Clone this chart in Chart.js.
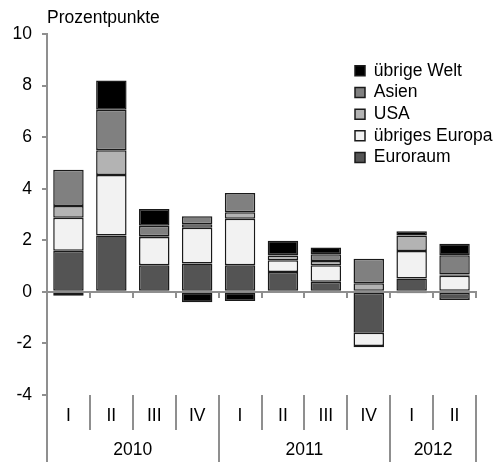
<!DOCTYPE html>
<html><head><meta charset="utf-8">
<script src="https://cdn.jsdelivr.net/npm/chart.js@4.4.1/dist/chart.umd.min.js"></script>
<style>html,body{margin:0;padding:0;background:#fff}</style>
</head><body>
<canvas id="c" width="498" height="462"></canvas>
<script>
// ---- data ----
const quarters = ['I','II','III','IV','I','II','III','IV','I','II'];
const years = ['2010','2011','2012'];
const quartersPerYear = [4, 4, 2];
const euroraum      = [1.59, 2.19, 1.03, 1.10, 1.03, 0.77, 0.39, -1.59, 0.52, -0.32];
const uebrigesEuropa= [1.28, 2.34, 1.10, 1.39, 1.81, 0.46, 0.64, -0.51, 1.06, 0.62];
const usa           = [0.46, 0.96, 0.03, 0.13, 0.25, 0.18, 0.17, 0.33, 0.61, 0.05];
const asien         = [1.41, 1.57, 0.40, 0.31, 0.74, 0.02, 0.26, 0.95, -0.05, 0.75];
const uebrigeWelt   = [-0.15, 1.14, 0.65, -0.40, -0.35, 0.55, 0.26, -0.05, 0.16, 0.45];
const yMin = -4, yMax = 10, yStep = 2;
const unitLabel = 'Prozentpunkte';

// ---- styles ----
const fs = 17.5;
Chart.defaults.font.family = "'Liberation Sans', Arial, sans-serif";
Chart.defaults.font.size = fs;
Chart.defaults.color = '#000';
const axisGray = '#8f8f8f';
const edge = '#1a1a1a';

// year boundaries / centres derived from quartersPerYear
const yearBounds = [-0.5];
const yearCentres = [];
quartersPerYear.forEach((n) => {
  const start = yearBounds[yearBounds.length - 1];
  yearCentres.push(start + n / 2);
  yearBounds.push(start + n);
});

const legendPlacer = {
  id: 'legendPlacer',
  afterLayout(chart) {
    const lg = chart.legend;
    if (!lg) return;
    const pad = lg.options.labels.padding;
    lg.left = 355 - pad;
    lg.right = chart.width;
    lg.top = 62 - pad;
    lg.bottom = lg.top + 200;
  }
};

function ds(label, data, color) {
  return { label, data, backgroundColor: color, borderColor: edge, borderWidth: 1.5,
           borderSkipped: false, categoryPercentage: 1, barPercentage: 0.71 };
}

new Chart(document.getElementById('c'), {
  type: 'bar',
  data: {
    labels: quarters,
    datasets: [
      ds('Euroraum', euroraum, '#545454'),
      ds('übriges Europa', uebrigesEuropa, '#f2f2f2'),
      ds('USA', usa, '#b3b3b3'),
      ds('Asien', asien, '#808080'),
      ds('übrige Welt', uebrigeWelt, '#000000')
    ]
  },
  plugins: [legendPlacer],
  options: {
    responsive: false,
    animation: false,
    layout: { padding: { left: 0, right: 22, top: 0, bottom: 0 } },
    plugins: {
      tooltip: { enabled: false },
      title: {
        display: true, text: unitLabel, align: 'start', position: 'top', fullSize: false,
        font: { size: fs, weight: 'normal' }, color: '#000', padding: { top: 7.5, bottom: 5.5 }
      },
      legend: {
        position: 'chartArea', align: 'start', reverse: true,
        labels: { boxWidth: 10, boxHeight: 10, padding: 4.2, font: { size: fs }, color: '#000' }
      }
    },
    scales: {
      x: {
        stacked: true,
        position: { y: 0 },
        ticks: { display: false },
        grid: { drawOnChartArea: false, tickLength: 5, color: axisGray, lineWidth: 2 },
        border: { display: true, color: axisGray, width: 2 }
      },
      q: {
        type: 'category', axis: 'x', position: 'bottom', weight: 0,
        offset: true,
        grid: { offset: true, drawOnChartArea: false, tickLength: 35, color: axisGray, lineWidth: 2 },
        border: { display: false },
        ticks: { autoSkip: false, maxRotation: 0, padding: -24, font: { size: fs }, color: '#000' },
        afterFit(s) { s.height = 35; }
      },
      years: {
        type: 'linear', axis: 'x', position: 'bottom', weight: 1,
        min: yearBounds[0], max: yearBounds[yearBounds.length - 1],
        offset: false,
        grid: {
          offset: false, drawOnChartArea: false, tickLength: 32, lineWidth: 2,
          color: c => (c.tick && yearBounds.includes(c.tick.value)) ? axisGray : 'rgba(0,0,0,0)'
        },
        border: { display: false },
        afterBuildTicks(s) {
          s.ticks = yearBounds.concat(yearCentres).sort((a, b) => a - b).map(v => ({ value: v }));
        },
        ticks: {
          autoSkip: false, maxRotation: 0, padding: -22, font: { size: fs }, color: '#000',
          callback: v => { const i = yearCentres.indexOf(v); return i >= 0 ? years[i] : ''; }
        },
        afterFit(s) { s.height = 32; }
      },
      y: {
        stacked: true,
        min: yMin, max: yMax,
        ticks: { stepSize: yStep, padding: 10, font: { size: fs }, color: '#000' },
        grid: { drawOnChartArea: false, tickLength: 5, color: axisGray, lineWidth: 2 },
        border: { display: true, color: axisGray, width: 2 },
        afterFit(s) { s.width = 47; }
      }
    }
  }
});
</script>
</body></html>
